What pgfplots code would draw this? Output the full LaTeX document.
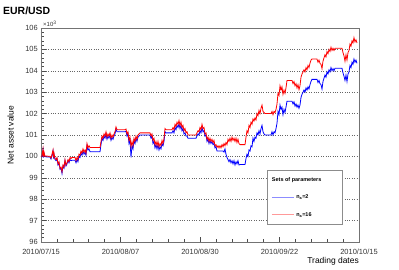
\documentclass[border=0pt]{standalone}
\usepackage{fontspec}
\setmainfont{Liberation Sans}
\usepackage{pgfplots}
\usepackage{pgfplotstable}
\pgfplotsset{compat=1.18}

\pgfplotstableread{
day value
0 100.00
0.29 99.98
0.58 100.30
0.72 99.95
0.87 100.15
1.16 99.98
1.45 99.98
2.60 99.97
2.89 99.88
3.18 100.05
3.47 100.25
3.62 99.90
3.76 100.10
4.05 99.85
4.34 99.80
4.63 99.90
4.92 99.60
5.21 99.70
5.50 99.40
5.79 99.45
6.08 99.20
6.22 99.40
6.37 99.55
6.65 99.45
6.94 99.80
7.23 99.55
7.52 99.65
7.81 99.80
8.10 99.70
8.39 99.85
8.68 99.80
8.97 99.82
9.84 99.82
10.13 99.70
10.42 99.85
10.70 99.75
10.99 100.00
11.28 99.95
11.57 100.15
11.86 100.05
12.15 100.25
12.44 100.10
12.73 100.20
13.02 100.05
13.31 100.50
13.60 100.30
13.89 100.35
14.18 100.22
17.07 100.22
17.36 100.55
17.65 100.85
17.94 100.75
18.23 100.95
18.52 100.85
18.81 101.05
19.09 100.80
19.38 100.95
19.67 100.85
19.96 101.00
20.25 100.75
20.54 100.90
20.83 100.80
21.12 100.95
21.41 101.05
21.70 101.28
21.99 101.15
24.30 101.15
24.59 101.18
24.88 100.95
25.17 101.05
25.46 100.60
25.75 100.75
26.04 99.95
26.33 100.50
26.62 100.35
26.91 100.75
27.20 100.60
27.48 100.85
27.77 100.70
28.06 100.90
28.35 100.95
28.64 101.00
31.54 101.00
31.83 100.85
32.11 100.95
32.40 100.60
32.69 100.70
32.98 100.40
33.27 100.55
33.56 100.35
33.85 100.55
34.14 100.30
34.43 100.45
34.72 100.35
35.01 100.60
35.30 100.50
35.59 100.70
35.88 101.15
36.17 101.10
37.90 101.10
38.19 101.20
38.48 101.10
38.77 101.35
39.06 101.25
39.35 101.45
39.64 101.35
39.93 101.52
40.22 101.30
40.50 101.45
40.79 101.20
41.08 101.30
41.37 101.05
41.66 101.10
41.95 100.95
42.24 100.95
42.53 100.85
44.84 100.85
45.13 100.95
45.42 101.05
45.71 101.00
46.00 101.20
46.29 101.10
46.58 101.35
46.87 101.15
47.16 101.20
47.45 100.95
47.74 101.00
48.03 100.70
48.32 100.80
48.60 100.60
48.89 100.75
49.18 100.60
49.47 100.70
49.76 100.55
50.05 100.60
50.34 100.40
50.63 100.45
50.92 100.25
52.66 100.25
52.95 100.20
53.23 100.35
53.52 100.10
53.81 99.95
54.10 99.85
54.39 99.75
54.68 99.85
54.97 99.70
55.26 99.80
55.55 99.65
55.84 99.80
56.13 99.60
56.42 99.75
56.70 99.65
56.99 99.80
57.28 99.60
57.57 99.62
59.02 99.62
59.31 99.90
59.60 100.10
59.89 100.00
60.18 100.30
60.47 100.25
60.76 100.50
61.05 100.45
61.33 100.85
61.62 100.70
61.91 100.90
62.20 100.85
62.49 101.10
62.78 101.00
63.07 101.20
63.36 101.05
63.65 101.30
63.94 101.45
64.23 101.15
64.52 101.05
64.81 101.00
66.54 101.00
66.83 101.15
67.12 101.00
67.41 101.15
67.70 101.10
67.99 101.30
68.28 101.55
68.57 102.10
68.86 101.95
69.15 102.40
69.44 102.20
69.72 102.30
70.01 101.95
70.30 102.20
70.59 102.05
70.88 102.30
71.17 102.58
72.62 102.58
72.91 102.45
73.20 102.55
73.49 102.35
73.78 102.45
74.07 102.30
74.35 102.40
74.64 102.25
74.93 102.40
75.22 102.75
75.51 102.90
75.80 103.00
76.09 103.10
76.38 103.00
76.67 103.20
76.96 103.10
77.25 103.25
77.53 103.15
77.82 103.35
78.11 103.50
78.40 103.60
79.85 103.60
80.14 103.45
80.43 103.55
80.72 103.40
81.01 103.35
81.30 103.15
81.58 103.50
81.87 103.65
82.16 103.80
82.45 103.70
82.74 103.95
83.03 103.85
83.32 104.05
83.61 103.95
83.90 104.15
84.19 104.00
84.48 104.10
84.77 104.00
85.06 104.12
87.08 104.12
87.37 103.90
87.66 103.75
87.95 103.55
88.24 103.80
88.53 103.50
88.82 103.85
89.11 103.95
89.40 104.25
89.69 104.15
89.98 104.40
90.26 104.30
90.55 104.55
90.84 104.40
91.13 104.50
91.42 104.35
}\bluedata

\pgfplotstableread{
day value
0 100.00
0.29 100.02
0.58 100.35
0.72 99.98
0.87 100.20
1.16 100.00
1.45 100.02
2.60 100.00
2.89 99.92
3.18 100.10
3.47 100.30
3.62 99.95
3.76 100.15
4.05 99.90
4.34 99.85
4.63 99.95
4.92 99.65
5.21 99.75
5.50 99.45
5.79 99.50
6.08 99.28
6.22 99.45
6.37 99.60
6.65 99.50
6.94 99.85
7.23 99.60
7.52 99.70
7.81 99.85
8.10 99.75
8.39 99.95
8.68 99.90
8.97 99.95
9.84 99.95
10.13 99.80
10.42 99.95
10.70 99.85
10.99 100.10
11.28 100.05
11.57 100.25
11.86 100.15
12.15 100.35
12.44 100.20
12.73 100.30
13.02 100.15
13.31 100.60
13.60 100.40
13.89 100.50
14.18 100.42
17.07 100.42
17.36 100.70
17.65 100.95
17.94 100.85
18.23 101.05
18.52 100.95
18.81 101.15
19.09 100.90
19.38 101.05
19.67 100.95
19.96 101.10
20.25 100.85
20.54 101.00
20.83 100.90
21.12 101.05
21.41 101.15
21.70 101.38
21.99 101.25
24.30 101.25
24.59 101.28
24.88 101.05
25.17 101.15
25.46 100.75
25.75 100.90
26.04 100.45
26.33 100.70
26.62 100.50
26.91 100.85
27.20 100.70
27.48 100.95
27.77 100.80
28.06 101.00
28.35 101.05
28.64 101.10
31.54 101.10
31.83 100.95
32.11 101.05
32.40 100.75
32.69 100.85
32.98 100.55
33.27 100.70
33.56 100.50
33.85 100.70
34.14 100.45
34.43 100.60
34.72 100.50
35.01 100.75
35.30 100.60
35.59 100.85
35.88 101.30
36.17 101.25
37.90 101.25
38.19 101.35
38.48 101.25
38.77 101.50
39.06 101.40
39.35 101.60
39.64 101.50
39.93 101.68
40.22 101.45
40.50 101.60
40.79 101.35
41.08 101.45
41.37 101.20
41.66 101.30
41.95 101.10
42.24 101.15
42.53 101.00
44.84 101.00
45.13 101.10
45.42 101.20
45.71 101.15
46.00 101.35
46.29 101.25
46.58 101.50
46.87 101.30
47.16 101.35
47.45 101.05
47.74 101.10
48.03 100.80
48.32 100.90
48.60 100.70
48.89 100.85
49.18 100.70
49.47 100.80
49.76 100.65
50.05 100.75
50.34 100.50
50.63 100.55
50.92 100.42
51.21 100.50
51.50 100.40
51.79 100.50
52.08 100.40
52.37 100.55
52.66 100.45
52.95 100.60
53.23 100.50
53.52 100.65
53.81 100.55
54.10 100.80
54.39 100.70
54.68 100.85
54.97 100.70
55.26 100.90
55.55 100.75
55.84 100.85
56.13 100.70
56.42 100.85
56.70 100.65
56.99 100.80
57.28 100.60
57.57 100.55
59.02 100.55
59.31 100.90
59.60 101.20
59.89 101.10
60.18 101.45
60.47 101.35
60.76 101.60
61.05 101.50
61.33 101.75
61.62 101.65
61.91 101.80
62.20 101.70
62.49 102.00
62.78 101.90
63.07 102.15
63.36 102.00
63.65 102.25
63.94 102.40
64.23 102.10
64.52 102.05
64.81 102.00
66.54 102.00
66.83 102.10
67.12 101.95
67.41 102.10
67.70 102.05
67.99 102.20
68.28 102.45
68.57 102.95
68.86 102.85
69.15 103.30
69.44 103.10
69.72 103.25
70.01 102.90
70.30 103.10
70.59 102.95
70.88 103.20
71.17 103.55
72.62 103.55
72.91 103.40
73.20 103.50
73.49 103.30
73.78 103.40
74.07 103.20
74.35 103.35
74.64 103.12
74.93 103.30
75.22 103.70
75.51 103.85
75.80 103.95
76.09 104.05
76.38 103.95
76.67 104.15
76.96 104.05
77.25 104.25
77.53 104.15
77.82 104.35
78.11 104.50
78.40 104.55
79.85 104.55
80.14 104.40
80.43 104.50
80.72 104.35
81.01 104.30
81.30 104.10
81.58 104.45
81.87 104.60
82.16 104.75
82.45 104.65
82.74 104.90
83.03 104.80
83.32 105.00
83.61 104.90
83.90 105.10
84.19 104.95
84.48 105.05
84.77 104.95
85.06 105.05
87.08 105.05
87.37 104.85
87.66 104.70
87.95 104.45
88.24 104.75
88.53 104.50
88.82 104.85
89.11 104.95
89.40 105.25
89.69 105.15
89.98 105.40
90.26 105.30
90.55 105.55
90.84 105.35
91.13 105.45
91.42 105.30
}\reddata

\begin{document}
\begin{tikzpicture}
\path[use as bounding box] (0,0) rectangle (399bp,270bp);
\begin{axis}[
  at={(41bp,28bp)}, anchor=south west,
  scale only axis, width=318bp, height=214bp,
  xmin=0, xmax=92, ymin=96, ymax=106,
  xtick={0,23,46,69,92},
  xticklabels={2010/07/15,2010/08/07,2010/08/30,2010/09/22,2010/10/15},
  ytick={96,97,...,106},
  minor x tick num=4, minor y tick num=4,
  tick align=inside, tick pos=left,
  major tick length=5bp, minor tick length=3bp,
  every tick/.style={black!70, line width=0.5pt},
  axis line style={black!55, line width=0.9pt},
  ymajorgrids, grid style={black!60, dotted, line width=0.5pt},
  /pgf/number format/assume math mode=true,
  tick label style={font=\fontsize{7.5}{9}\selectfont, text=black!80, inner sep=0pt},
  xticklabel style={yshift=-6.5bp},
  yticklabel style={xshift=-3bp},
  ylabel={Net asset value},
  xlabel={Trading dates},
  every axis y label/.style={at={(rel axis cs:0,0.5)}, xshift=-27bp, rotate=90, anchor=south, inner sep=0pt, font=\fontsize{8.5}{10}\selectfont},
  every axis x label/.style={at={(rel axis cs:1,0)}, yshift=-15.5bp, anchor=north east, inner sep=0pt, font=\fontsize{8.5}{10}\selectfont},
  legend style={name=leg, at={(rel axis cs:0.711,0.335)}, anchor=north west, draw=none, fill=white,
    font=\fontsize{5.5}{6.5}\selectfont\bfseries, inner xsep=4bp, inner ysep=5bp, row sep=8bp, cells={anchor=west}},
]
\addlegendimage{legend image code/.code={\node[overlay, anchor=west, inner sep=0pt, font=\fontsize{5.5}{6.5}\selectfont\bfseries] at (0bp,0bp) {Sets of parameters};}}
\addlegendentry{\rule{0pt}{4bp}}
\addlegendimage{legend image code/.code={\draw[draw=blue!45, line width=1pt] (0bp,0bp) -- (22bp,0bp);}}
\addlegendentry{\makebox[40bp][l]{n\textsubscript{a}=2}}
\addlegendimage{legend image code/.code={\draw[draw=red!40, line width=1pt] (0bp,0bp) -- (22bp,0bp);}}
\addlegendentry{\makebox[40bp][l]{n\textsubscript{a}=16}}
\addplot[blue, line width=0.8pt, forget plot] table[x=day, y=value] {\bluedata};
\addplot[red, line width=0.8pt, forget plot] table[x=day, y=value] {\reddata};
\end{axis}
\draw[black!45, line width=0.6pt] (leg.south west) rectangle (leg.north east);
\node[anchor=base west, inner sep=0pt, font=\fontsize{10.5}{12}\selectfont\bfseries] at (3bp,255bp) {EUR/USD};
\node[anchor=south west, inner sep=0pt, font=\fontsize{6}{7}\selectfont, text=black!80] at (43bp,243bp) {×10\textsuperscript{3}};
\end{tikzpicture}
\end{document}
